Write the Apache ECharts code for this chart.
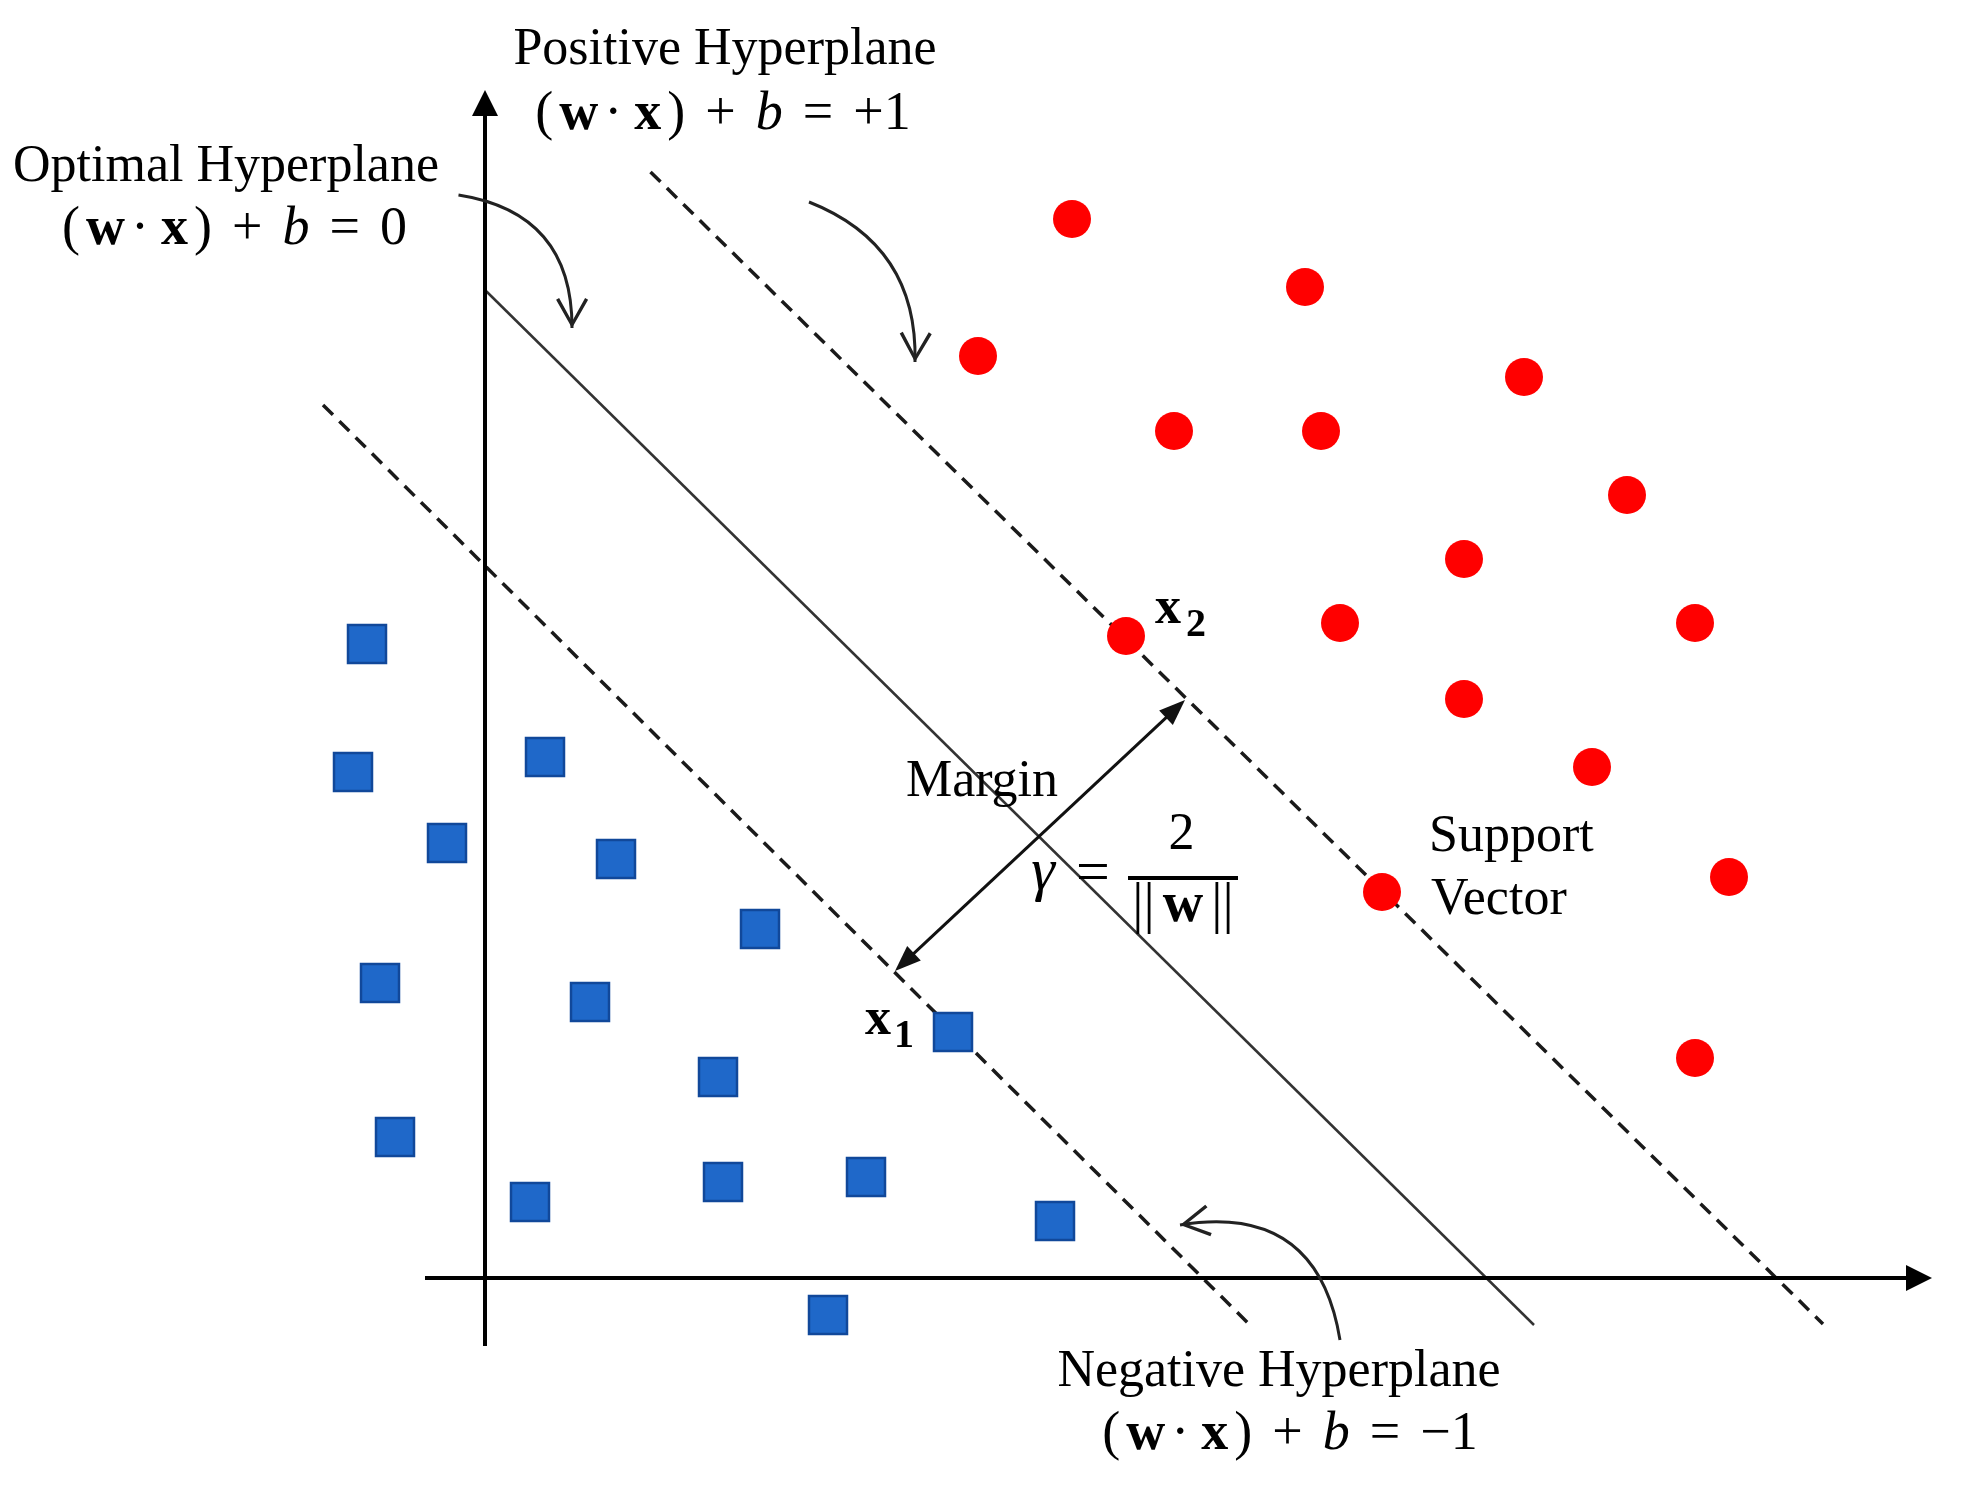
<!DOCTYPE html>
<html>
<head>
<meta charset="utf-8">
<title>SVM hyperplanes</title>
<script src="https://cdn.jsdelivr.net/npm/echarts@6/dist/echarts.min.js"></script>
<style>
  html, body { margin: 0; padding: 0; background: #fff; }
  #svm-chart { width: 1964px; height: 1493px; }
</style>
</head>
<body>
<div id="svm-chart"></div>
<script>
// class +1 (red dots) and class -1 (blue squares), plot units
var positivePoints = [
  [5.87, 10.59], [8.20, 9.91], [4.93, 9.22], [10.39, 9.01], [6.89, 8.47],
  [8.36, 8.47], [11.42, 7.83], [9.79, 7.19], [6.41, 6.42], [8.55, 6.55],
  [12.10, 6.55], [9.79, 5.79], [11.07, 5.11], [12.44, 4.01], [8.97, 3.86],
  [12.10, 2.20]
];
var negativePoints = [
  [-1.18, 6.34], [-1.32, 5.06], [0.60, 5.21], [-0.38, 4.35], [1.31, 4.19],
  [2.75, 3.49], [-1.05, 2.95], [1.05, 2.76], [4.68, 2.46], [2.33, 2.01],
  [-0.90, 1.41], [0.45, 0.76], [2.38, 0.96], [3.81, 1.01], [5.70, 0.57],
  [3.43, -0.37]
];

// hyperplanes
var optimalPlane = [[0, 9.88], [10.49, -0.47]];
var positivePlane = [[1.655, 11.06], [13.38, -0.46]];
var negativePlane = [[-1.62, 8.73], [7.68, -0.50]];

// axes (x then y), margin arrow, curved pointers [from, to, bend]
var axisSegments = [
  [[-0.60, 0], [14.34, 0]],
  [[0, -0.68], [0, 11.75]]
];
var marginArrow = [[4.195, 3.159], [6.905, 5.691]];
var pointerArrows = [
  [[-0.265, 10.83], [0.87, 9.50], 0.43],
  [[3.24, 10.76], [4.30, 9.16], 0.35],
  [[8.55, -0.62], [6.95, 0.53], -0.5]
];

// text anchors in plot units
var planeLabels = [
  ['Positive Hyperplane', [2.40, 12.275]],
  ['Optimal Hyperplane', [-2.59, 11.105]],
  ['Negative Hyperplane', [7.94, -0.945]],
  ['Margin', [4.97, 4.955]]
];
var planeFormulas = [
  [['+', '1'], [2.38, 11.632]],
  [['0'], [-2.505, 10.482]],
  [['\u2212', '1'], [8.05, -1.568]]
];
var supportLabels = [
  ['Support', [9.44, 4.405]],
  ['Vector', [9.46, 3.775]]
];
var vectorNames = [
  ['x', '2', [6.70, 6.685], [7.01, 6.525]],
  ['x', '1', [3.80, 2.575], [4.09, 2.415]]
];
var gammaParts = {
  gamma: [5.58, 4.0525],
  equals: [6.08, 4.0325],
  numerator: [6.965, 4.425],
  bar: [[6.43, 4.00], [7.53, 4.00]],
  denominator: [6.98, 3.71]
};

var serif = '"Liberation Serif", "Times New Roman", serif';
// open V head, tip at the centre of its box
var vHead = 'path://M16,-30L16.01,-30L16,-30Z M16,0L32,28L29,29.8L16,6.5L3,29.8L0,28Z';

var myChart = echarts.init(document.getElementById('svm-chart'), null, {
  renderer: 'canvas',
  useDirtyRect: false
});

function seg(p) { return { coords: [p[0], p[1]] }; }

var option = {
  animation: false,
  grid: { left: 0, right: 0, top: 0, bottom: 0 },
  xAxis: { type: 'value', min: -4.85, max: 14.79, show: false },
  yAxis: { type: 'value', min: -2.15, max: 12.78, show: false },
  series: [
    {
      name: 'hyperplanes',
      type: 'lines',
      coordinateSystem: 'cartesian2d',
      silent: true,
      z: 1,
      lineStyle: { color: '#1a1a1a', width: 3.5, opacity: 1 },
      data: [
        { coords: optimalPlane, lineStyle: { color: '#333', width: 2.5, type: 'solid' } },
        { coords: positivePlane, lineStyle: { type: [14, 9] } },
        { coords: negativePlane, lineStyle: { type: [14, 9] } }
      ]
    },
    {
      name: 'axes',
      type: 'lines',
      coordinateSystem: 'cartesian2d',
      silent: true,
      z: 1,
      symbol: ['none', 'triangle'],
      symbolSize: 26,
      lineStyle: { color: '#000', width: 4, opacity: 1 },
      data: axisSegments.map(seg)
    },
    {
      name: 'margin',
      type: 'lines',
      coordinateSystem: 'cartesian2d',
      silent: true,
      z: 2,
      symbol: ['triangle', 'triangle'],
      symbolSize: [[20, 26], [20, 26]],
      lineStyle: { color: '#111', width: 3, opacity: 1 },
      data: [seg(marginArrow)]
    },
    {
      name: 'pointers',
      type: 'lines',
      coordinateSystem: 'cartesian2d',
      silent: true,
      z: 2,
      symbol: ['none', vHead],
      symbolSize: [0, [32, 60]],
      lineStyle: { color: '#222', width: 3, opacity: 1 },
      data: pointerArrows.map(function (a) {
        return { coords: [a[0], a[1]], lineStyle: { curveness: a[2] } };
      })
    },
    {
      name: 'class +1',
      type: 'scatter',
      z: 3,
      silent: true,
      symbol: 'circle',
      symbolSize: 38,
      itemStyle: { color: '#ff0000', opacity: 1 },
      data: positivePoints
    },
    {
      name: 'class -1',
      type: 'scatter',
      z: 3,
      silent: true,
      symbol: 'rect',
      symbolSize: 38,
      itemStyle: { color: '#1f68c9', borderColor: '#11489a', borderWidth: 2.5, opacity: 1 },
      data: negativePoints
    }
  ]
};

myChart.setOption(option);

// ---- text annotations ----
function px(p) { return myChart.convertToPixel({ gridIndex: 0 }, p); }

function textEl(str, at, font, align) {
  var p = px(at);
  return {
    type: 'text', x: p[0], y: p[1], z: 10, silent: true,
    style: { text: str, fill: '#000', font: font, align: align || 'center', verticalAlign: 'middle' }
  };
}

var formulaRich = {
  r: { fontFamily: serif, fontSize: 54 },
  b: { fontFamily: serif, fontSize: 54, fontWeight: 'bold' },
  i: { fontFamily: serif, fontSize: 54, fontStyle: 'italic' },
  g: { fontFamily: serif, fontSize: 54, width: 6 },
  s: { fontFamily: serif, fontSize: 54, width: 12 },
  G: { fontFamily: serif, fontSize: 54, width: 20 }
};

function formula(rhs) {
  var s = '{r|(}{g| }{b|w}{g| }{r|\u00b7}{s| }{b|x}{g| }{r|)}{G| }{r|+}{G| }{i|b}{G| }{r|=}{G| }';
  if (rhs.length > 1) {
    s += '{r|' + rhs[0] + '}{r|' + rhs[1] + '}';
  } else {
    s += '{r|' + rhs[0] + '}';
  }
  return s;
}

var graphics = [];
planeLabels.forEach(function (l) {
  graphics.push(textEl(l[0], l[1], '52px ' + serif));
});
supportLabels.forEach(function (l) {
  graphics.push(textEl(l[0], l[1], '52px ' + serif, 'left'));
});
planeFormulas.forEach(function (f) {
  var p = px(f[1]);
  graphics.push({
    type: 'text', x: p[0], y: p[1], z: 10, silent: true,
    style: { text: formula(f[0]), rich: formulaRich, fill: '#000', align: 'center', verticalAlign: 'middle' }
  });
});
vectorNames.forEach(function (v) {
  graphics.push(textEl(v[0], v[2], 'bold 52px ' + serif, 'left'));
  graphics.push(textEl(v[1], v[3], 'bold 40px ' + serif, 'left'));
});

graphics.push(textEl('\u03b3', gammaParts.gamma, 'italic 60px ' + serif));
graphics.push(textEl('=', gammaParts.equals, '60px ' + serif));
graphics.push(textEl('2', gammaParts.numerator, '52px ' + serif));
var b0 = px(gammaParts.bar[0]), b1 = px(gammaParts.bar[1]);
graphics.push({
  type: 'line', z: 10, silent: true,
  shape: { x1: b0[0], y1: b0[1], x2: b1[0], y2: b1[1] },
  style: { stroke: '#000', lineWidth: 4 }
});
var dp = px(gammaParts.denominator);
graphics.push({
  type: 'text', x: dp[0], y: dp[1], z: 10, silent: true,
  style: {
    text: '{r|||}{g| }{b|w}{g| }{r|||}',
    rich: {
      r: { fontFamily: serif, fontSize: 56 },
      b: { fontFamily: serif, fontSize: 56, fontWeight: 'bold' },
      g: { fontFamily: serif, fontSize: 56, width: 8 }
    },
    fill: '#000', align: 'center', verticalAlign: 'middle'
  }
});

myChart.setOption({ graphic: graphics });

window.addEventListener('resize', myChart.resize);
</script>
</body>
</html>
